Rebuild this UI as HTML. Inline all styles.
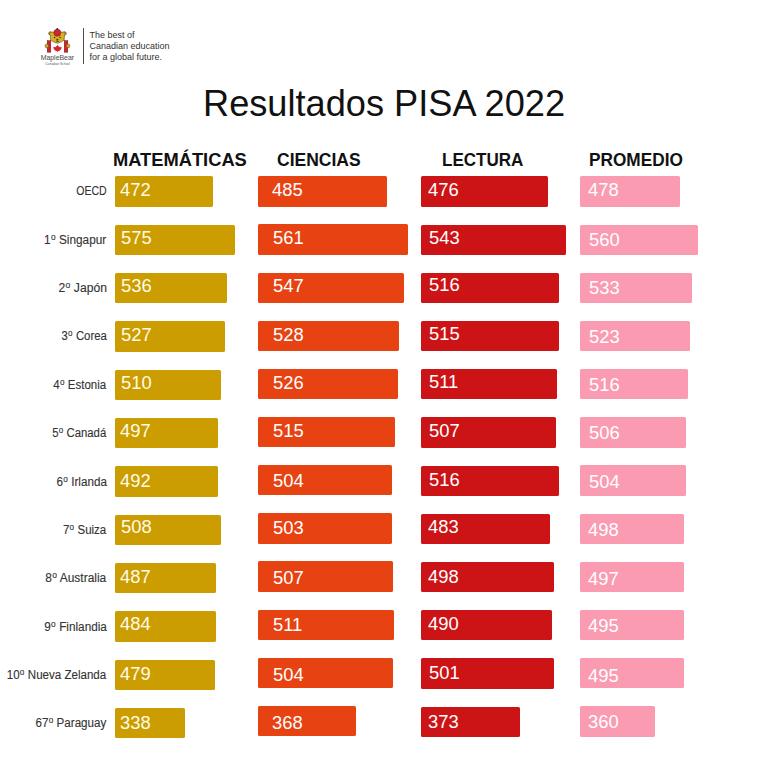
<!DOCTYPE html>
<html><head><meta charset="utf-8">
<style>
*{margin:0;padding:0;box-sizing:border-box}
html,body{width:768px;height:768px;overflow:hidden;background:#fff}
body{position:relative;font-family:"Liberation Sans",sans-serif}
.t{position:absolute;white-space:nowrap}
.bar{position:absolute;border-radius:1.6px}
.o{font-size:0.71em;position:relative;top:-0.47em;margin-left:0.03em;margin-right:0.02em}
.vline{position:absolute;left:83px;top:28.3px;width:1.2px;height:35.4px;background:#505050}
</style></head><body>
<svg style="position:absolute;left:0;top:0" width="80" height="70" viewBox="0 0 80 70">
<rect x="50.6" y="40.6" width="13.6" height="11.7" fill="#fff"/>
<rect x="47.2" y="40.7" width="3.6" height="11.5" fill="#d22228" stroke="#5e1414" stroke-width="0.45"/>
<rect x="64.2" y="40.7" width="3.6" height="11.5" fill="#d22228" stroke="#5e1414" stroke-width="0.45"/>
<circle cx="46.9" cy="45.9" r="1.9" fill="#cfa72c" stroke="#4a3a10" stroke-width="0.45"/>
<circle cx="68.0" cy="45.9" r="1.9" fill="#cfa72c" stroke="#4a3a10" stroke-width="0.45"/>
<path d="M57.50 44.80 L58.25 46.20 L59.00 45.80 L58.85 47.60 L60.10 46.50 L60.20 47.30 L61.80 47.00 L61.20 48.50 L61.60 48.90 L59.40 50.50 L59.60 51.20 L57.85 50.90 L57.85 51.90 L57.15 51.90 L57.15 50.90 L55.40 51.20 L55.60 50.50 L53.40 48.90 L53.80 48.50 L53.20 47.00 L54.80 47.30 L54.90 46.50 L56.15 47.60 L56.00 45.80 L56.75 46.20 L57.50 44.80 Z" fill="#d8222a"/>
<circle cx="50.3" cy="33.4" r="1.7" fill="#d6ae2a" stroke="#3c2e08" stroke-width="0.5"/>
<circle cx="64.6" cy="33.4" r="1.7" fill="#d6ae2a" stroke="#3c2e08" stroke-width="0.5"/>
<path d="M49.7 33.3 Q49.9 31.7 51.6 32.1 L63.3 32.1 Q65 31.7 65.2 33.3 Q65.4 34.6 64.5 35.1 L64.1 40.1 Q61.8 42.2 57.35 43.3 Q52.9 42.2 50.7 40.1 L50.4 35.1 Q49.5 34.6 49.7 33.3 Z" fill="#d6ae2a" stroke="#3c2e08" stroke-width="0.5"/>
<circle cx="54.6" cy="37.5" r="0.65" fill="#2a2008"/>
<circle cx="60.1" cy="37.5" r="0.65" fill="#2a2008"/>
<path d="M56.5 39.2 L58.2 39.2 L57.35 40.3 Z M57.35 40.2 L57.35 41.2 M55.9 41.4 Q57.35 40.8 58.8 41.4" fill="#2a2008" stroke="#2a2008" stroke-width="0.45"/>
<circle cx="57.3" cy="32.7" r="3.5" fill="#cf262b" stroke="#5a1414" stroke-width="0.45"/>
<circle cx="57.3" cy="28.9" r="0.9" fill="#3a1a1a"/>
<text x="40.7" y="59.7" font-family="Liberation Sans" font-size="7.2" fill="#505050" stroke="#4a4a4a" stroke-width="0.05" textLength="33.4" lengthAdjust="spacingAndGlyphs">MapleBear</text>
<text x="45.3" y="64.9" font-family="Liberation Sans" font-size="3.4" fill="#5a5a5a" textLength="24.5" lengthAdjust="spacingAndGlyphs">Canadian School</text>
</svg>
<div class="vline"></div>
<div class="t" style="left:89.50px;top:31.18px;font-size:9.0px;line-height:9.0px;font-weight:normal;color:#333;transform:scaleX(1.0);transform-origin:left top;">The best of</div>
<div class="t" style="left:89.50px;top:42.03px;font-size:9.0px;line-height:9.0px;font-weight:normal;color:#333;transform:scaleX(1.0);transform-origin:left top;">Canadian education</div>
<div class="t" style="left:89.50px;top:52.88px;font-size:9.0px;line-height:9.0px;font-weight:normal;color:#333;transform:scaleX(1.0);transform-origin:left top;">for a global future.</div>
<div class="t" style="left:202.80px;top:84.76px;font-size:37.6px;line-height:37.6px;font-weight:normal;color:#111;transform:scaleX(0.963);transform-origin:left top;">Resultados PISA 2022</div>
<div class="t" style="left:112.50px;top:149.91px;font-size:19.0px;line-height:19.0px;font-weight:bold;color:#111;transform:scaleX(0.963);transform-origin:left top;">MATEMÁTICAS</div>
<div class="t" style="left:277.10px;top:149.91px;font-size:19.0px;line-height:19.0px;font-weight:bold;color:#111;transform:scaleX(0.921);transform-origin:left top;">CIENCIAS</div>
<div class="t" style="left:442.00px;top:149.91px;font-size:19.0px;line-height:19.0px;font-weight:bold;color:#111;transform:scaleX(0.896);transform-origin:left top;">LECTURA</div>
<div class="t" style="left:588.80px;top:149.91px;font-size:19.0px;line-height:19.0px;font-weight:bold;color:#111;transform:scaleX(0.907);transform-origin:left top;">PROMEDIO</div>
<div class="t" style="right:661.50px;top:185.34px;font-size:12.0px;line-height:12.0px;font-weight:normal;color:#333;transform:scaleX(0.8793);transform-origin:right top;-webkit-text-stroke:0.12px #333;">OECD</div>
<div class="bar" style="left:115.00px;top:176.35px;width:98.07px;height:30.3px;background:#cb9d00"></div>
<div class="t" style="left:119.68px;top:180.13px;font-size:19.25px;line-height:19.25px;font-weight:normal;color:#fffbe8;transform:scaleX(0.955);transform-origin:left top;">472</div>
<div class="bar" style="left:258.35px;top:176.35px;width:128.85px;height:30.3px;background:#e74312"></div>
<div class="t" style="left:271.58px;top:180.13px;font-size:19.25px;line-height:19.25px;font-weight:normal;color:#fff;transform:scaleX(0.955);transform-origin:left top;">485</div>
<div class="bar" style="left:420.90px;top:176.35px;width:127.40px;height:30.3px;background:#cc1416"></div>
<div class="t" style="left:428.18px;top:180.13px;font-size:19.25px;line-height:19.25px;font-weight:normal;color:#fff;transform:scaleX(0.955);transform-origin:left top;">476</div>
<div class="bar" style="left:580.10px;top:176.35px;width:100.00px;height:30.3px;background:#fa9bb2"></div>
<div class="t" style="left:587.58px;top:180.23px;font-size:19.25px;line-height:19.25px;font-weight:normal;color:#fff;transform:scaleX(0.955);transform-origin:left top;">478</div>
<div class="t" style="right:661.50px;top:233.70px;font-size:12.0px;line-height:12.0px;font-weight:normal;color:#333;transform:scaleX(0.9828);transform-origin:right top;-webkit-text-stroke:0.12px #333;">1<span class="o">o</span> Singapur</div>
<div class="bar" style="left:115.00px;top:224.67px;width:119.70px;height:30.3px;background:#cb9d00"></div>
<div class="t" style="left:120.96px;top:228.23px;font-size:19.25px;line-height:19.25px;font-weight:normal;color:#fffbe8;transform:scaleX(0.955);transform-origin:left top;">575</div>
<div class="bar" style="left:258.35px;top:224.48px;width:149.20px;height:30.3px;background:#e74312"></div>
<div class="t" style="left:272.96px;top:228.23px;font-size:19.25px;line-height:19.25px;font-weight:normal;color:#fff;transform:scaleX(0.955);transform-origin:left top;">561</div>
<div class="bar" style="left:420.90px;top:224.55px;width:145.10px;height:30.3px;background:#cc1416"></div>
<div class="t" style="left:428.86px;top:227.73px;font-size:19.25px;line-height:19.25px;font-weight:normal;color:#fff;transform:scaleX(0.955);transform-origin:left top;">543</div>
<div class="bar" style="left:580.10px;top:224.53px;width:117.45px;height:30.3px;background:#fa9bb2"></div>
<div class="t" style="left:588.66px;top:230.23px;font-size:19.25px;line-height:19.25px;font-weight:normal;color:#fff;transform:scaleX(0.955);transform-origin:left top;">560</div>
<div class="t" style="right:661.50px;top:282.06px;font-size:12.0px;line-height:12.0px;font-weight:normal;color:#333;transform:scaleX(1.0095);transform-origin:right top;-webkit-text-stroke:0.12px #333;">2<span class="o">o</span> Japón</div>
<div class="bar" style="left:115.00px;top:272.99px;width:111.60px;height:30.3px;background:#cb9d00"></div>
<div class="t" style="left:120.96px;top:275.93px;font-size:19.25px;line-height:19.25px;font-weight:normal;color:#fffbe8;transform:scaleX(0.955);transform-origin:left top;">536</div>
<div class="bar" style="left:258.35px;top:272.61px;width:145.55px;height:30.3px;background:#e74312"></div>
<div class="t" style="left:272.96px;top:275.93px;font-size:19.25px;line-height:19.25px;font-weight:normal;color:#fff;transform:scaleX(0.955);transform-origin:left top;">547</div>
<div class="bar" style="left:420.90px;top:272.75px;width:138.10px;height:30.3px;background:#cc1416"></div>
<div class="t" style="left:428.86px;top:275.43px;font-size:19.25px;line-height:19.25px;font-weight:normal;color:#fff;transform:scaleX(0.955);transform-origin:left top;">516</div>
<div class="bar" style="left:580.10px;top:272.71px;width:111.70px;height:30.3px;background:#fa9bb2"></div>
<div class="t" style="left:588.66px;top:277.83px;font-size:19.25px;line-height:19.25px;font-weight:normal;color:#fff;transform:scaleX(0.955);transform-origin:left top;">533</div>
<div class="t" style="right:661.50px;top:330.42px;font-size:12.0px;line-height:12.0px;font-weight:normal;color:#333;transform:scaleX(0.9467);transform-origin:right top;-webkit-text-stroke:0.12px #333;">3<span class="o">o</span> Corea</div>
<div class="bar" style="left:115.00px;top:321.31px;width:109.80px;height:30.3px;background:#cb9d00"></div>
<div class="t" style="left:120.96px;top:324.88px;font-size:19.25px;line-height:19.25px;font-weight:normal;color:#fffbe8;transform:scaleX(0.955);transform-origin:left top;">527</div>
<div class="bar" style="left:258.35px;top:320.74px;width:140.65px;height:30.3px;background:#e74312"></div>
<div class="t" style="left:272.96px;top:324.88px;font-size:19.25px;line-height:19.25px;font-weight:normal;color:#fff;transform:scaleX(0.955);transform-origin:left top;">528</div>
<div class="bar" style="left:420.90px;top:320.95px;width:137.80px;height:30.3px;background:#cc1416"></div>
<div class="t" style="left:428.86px;top:324.13px;font-size:19.25px;line-height:19.25px;font-weight:normal;color:#fff;transform:scaleX(0.955);transform-origin:left top;">515</div>
<div class="bar" style="left:580.10px;top:320.89px;width:109.60px;height:30.3px;background:#fa9bb2"></div>
<div class="t" style="left:588.66px;top:327.33px;font-size:19.25px;line-height:19.25px;font-weight:normal;color:#fff;transform:scaleX(0.955);transform-origin:left top;">523</div>
<div class="t" style="right:661.50px;top:378.78px;font-size:12.0px;line-height:12.0px;font-weight:normal;color:#333;transform:scaleX(0.9588);transform-origin:right top;-webkit-text-stroke:0.12px #333;">4<span class="o">o</span> Estonia</div>
<div class="bar" style="left:115.00px;top:369.63px;width:105.90px;height:30.3px;background:#cb9d00"></div>
<div class="t" style="left:120.96px;top:372.93px;font-size:19.25px;line-height:19.25px;font-weight:normal;color:#fffbe8;transform:scaleX(0.955);transform-origin:left top;">510</div>
<div class="bar" style="left:258.35px;top:368.87px;width:140.05px;height:30.3px;background:#e74312"></div>
<div class="t" style="left:272.96px;top:373.43px;font-size:19.25px;line-height:19.25px;font-weight:normal;color:#fff;transform:scaleX(0.955);transform-origin:left top;">526</div>
<div class="bar" style="left:420.90px;top:369.15px;width:136.50px;height:30.3px;background:#cc1416"></div>
<div class="t" style="left:428.86px;top:372.13px;font-size:19.25px;line-height:19.25px;font-weight:normal;color:#fff;transform:scaleX(0.955);transform-origin:left top;">511</div>
<div class="bar" style="left:580.10px;top:369.07px;width:108.10px;height:30.3px;background:#fa9bb2"></div>
<div class="t" style="left:588.66px;top:374.83px;font-size:19.25px;line-height:19.25px;font-weight:normal;color:#fff;transform:scaleX(0.955);transform-origin:left top;">516</div>
<div class="t" style="right:661.50px;top:427.14px;font-size:12.0px;line-height:12.0px;font-weight:normal;color:#333;transform:scaleX(0.9448);transform-origin:right top;-webkit-text-stroke:0.12px #333;">5<span class="o">o</span> Canadá</div>
<div class="bar" style="left:115.00px;top:417.95px;width:103.30px;height:30.3px;background:#cb9d00"></div>
<div class="t" style="left:119.68px;top:420.83px;font-size:19.25px;line-height:19.25px;font-weight:normal;color:#fffbe8;transform:scaleX(0.955);transform-origin:left top;">497</div>
<div class="bar" style="left:258.35px;top:417.00px;width:136.95px;height:30.3px;background:#e74312"></div>
<div class="t" style="left:272.96px;top:421.13px;font-size:19.25px;line-height:19.25px;font-weight:normal;color:#fff;transform:scaleX(0.955);transform-origin:left top;">515</div>
<div class="bar" style="left:420.90px;top:417.35px;width:135.45px;height:30.3px;background:#cc1416"></div>
<div class="t" style="left:428.86px;top:420.83px;font-size:19.25px;line-height:19.25px;font-weight:normal;color:#fff;transform:scaleX(0.955);transform-origin:left top;">507</div>
<div class="bar" style="left:580.10px;top:417.25px;width:106.00px;height:30.3px;background:#fa9bb2"></div>
<div class="t" style="left:588.66px;top:423.03px;font-size:19.25px;line-height:19.25px;font-weight:normal;color:#fff;transform:scaleX(0.955);transform-origin:left top;">506</div>
<div class="t" style="right:661.50px;top:475.50px;font-size:12.0px;line-height:12.0px;font-weight:normal;color:#333;transform:scaleX(0.972);transform-origin:right top;-webkit-text-stroke:0.12px #333;">6<span class="o">o</span> Irlanda</div>
<div class="bar" style="left:115.00px;top:466.27px;width:102.50px;height:30.3px;background:#cb9d00"></div>
<div class="t" style="left:119.68px;top:470.63px;font-size:19.25px;line-height:19.25px;font-weight:normal;color:#fffbe8;transform:scaleX(0.955);transform-origin:left top;">492</div>
<div class="bar" style="left:258.35px;top:465.13px;width:134.05px;height:30.3px;background:#e74312"></div>
<div class="t" style="left:272.96px;top:471.33px;font-size:19.25px;line-height:19.25px;font-weight:normal;color:#fff;transform:scaleX(0.955);transform-origin:left top;">504</div>
<div class="bar" style="left:420.90px;top:465.55px;width:138.10px;height:30.3px;background:#cc1416"></div>
<div class="t" style="left:428.86px;top:469.83px;font-size:19.25px;line-height:19.25px;font-weight:normal;color:#fff;transform:scaleX(0.955);transform-origin:left top;">516</div>
<div class="bar" style="left:580.10px;top:465.43px;width:105.50px;height:30.3px;background:#fa9bb2"></div>
<div class="t" style="left:588.66px;top:472.23px;font-size:19.25px;line-height:19.25px;font-weight:normal;color:#fff;transform:scaleX(0.955);transform-origin:left top;">504</div>
<div class="t" style="right:661.50px;top:523.86px;font-size:12.0px;line-height:12.0px;font-weight:normal;color:#333;transform:scaleX(0.9569);transform-origin:right top;-webkit-text-stroke:0.12px #333;">7<span class="o">o</span> Suiza</div>
<div class="bar" style="left:115.00px;top:514.59px;width:105.90px;height:30.3px;background:#cb9d00"></div>
<div class="t" style="left:120.96px;top:517.23px;font-size:19.25px;line-height:19.25px;font-weight:normal;color:#fffbe8;transform:scaleX(0.955);transform-origin:left top;">508</div>
<div class="bar" style="left:258.35px;top:513.26px;width:134.05px;height:30.3px;background:#e74312"></div>
<div class="t" style="left:272.96px;top:518.03px;font-size:19.25px;line-height:19.25px;font-weight:normal;color:#fff;transform:scaleX(0.955);transform-origin:left top;">503</div>
<div class="bar" style="left:420.90px;top:513.75px;width:128.90px;height:30.3px;background:#cc1416"></div>
<div class="t" style="left:428.18px;top:517.23px;font-size:19.25px;line-height:19.25px;font-weight:normal;color:#fff;transform:scaleX(0.955);transform-origin:left top;">483</div>
<div class="bar" style="left:580.10px;top:513.61px;width:104.20px;height:30.3px;background:#fa9bb2"></div>
<div class="t" style="left:587.58px;top:519.93px;font-size:19.25px;line-height:19.25px;font-weight:normal;color:#fff;transform:scaleX(0.955);transform-origin:left top;">498</div>
<div class="t" style="right:661.50px;top:572.22px;font-size:12.0px;line-height:12.0px;font-weight:normal;color:#333;transform:scaleX(0.9944);transform-origin:right top;-webkit-text-stroke:0.12px #333;">8<span class="o">o</span> Australia</div>
<div class="bar" style="left:115.00px;top:562.91px;width:101.25px;height:30.3px;background:#cb9d00"></div>
<div class="t" style="left:119.68px;top:566.83px;font-size:19.25px;line-height:19.25px;font-weight:normal;color:#fffbe8;transform:scaleX(0.955);transform-origin:left top;">487</div>
<div class="bar" style="left:258.35px;top:561.39px;width:135.05px;height:30.3px;background:#e74312"></div>
<div class="t" style="left:272.96px;top:567.93px;font-size:19.25px;line-height:19.25px;font-weight:normal;color:#fff;transform:scaleX(0.955);transform-origin:left top;">507</div>
<div class="bar" style="left:420.90px;top:561.95px;width:133.00px;height:30.3px;background:#cc1416"></div>
<div class="t" style="left:428.18px;top:566.83px;font-size:19.25px;line-height:19.25px;font-weight:normal;color:#fff;transform:scaleX(0.955);transform-origin:left top;">498</div>
<div class="bar" style="left:580.10px;top:561.79px;width:103.80px;height:30.3px;background:#fa9bb2"></div>
<div class="t" style="left:587.58px;top:569.33px;font-size:19.25px;line-height:19.25px;font-weight:normal;color:#fff;transform:scaleX(0.955);transform-origin:left top;">497</div>
<div class="t" style="right:661.50px;top:620.58px;font-size:12.0px;line-height:12.0px;font-weight:normal;color:#333;transform:scaleX(0.9792);transform-origin:right top;-webkit-text-stroke:0.12px #333;">9<span class="o">o</span> Finlandia</div>
<div class="bar" style="left:115.00px;top:611.23px;width:100.70px;height:30.3px;background:#cb9d00"></div>
<div class="t" style="left:119.68px;top:614.23px;font-size:19.25px;line-height:19.25px;font-weight:normal;color:#fffbe8;transform:scaleX(0.955);transform-origin:left top;">484</div>
<div class="bar" style="left:258.35px;top:609.52px;width:136.05px;height:30.3px;background:#e74312"></div>
<div class="t" style="left:272.96px;top:615.03px;font-size:19.25px;line-height:19.25px;font-weight:normal;color:#fff;transform:scaleX(0.955);transform-origin:left top;">511</div>
<div class="bar" style="left:420.90px;top:610.15px;width:130.90px;height:30.3px;background:#cc1416"></div>
<div class="t" style="left:428.18px;top:614.23px;font-size:19.25px;line-height:19.25px;font-weight:normal;color:#fff;transform:scaleX(0.955);transform-origin:left top;">490</div>
<div class="bar" style="left:580.10px;top:609.97px;width:103.50px;height:30.3px;background:#fa9bb2"></div>
<div class="t" style="left:587.58px;top:616.13px;font-size:19.25px;line-height:19.25px;font-weight:normal;color:#fff;transform:scaleX(0.955);transform-origin:left top;">495</div>
<div class="t" style="right:661.50px;top:668.94px;font-size:12.0px;line-height:12.0px;font-weight:normal;color:#333;transform:scaleX(0.9638);transform-origin:right top;-webkit-text-stroke:0.12px #333;">10<span class="o">o</span> Nueva Zelanda</div>
<div class="bar" style="left:115.00px;top:659.55px;width:99.70px;height:30.3px;background:#cb9d00"></div>
<div class="t" style="left:119.68px;top:663.73px;font-size:19.25px;line-height:19.25px;font-weight:normal;color:#fffbe8;transform:scaleX(0.955);transform-origin:left top;">479</div>
<div class="bar" style="left:258.35px;top:657.65px;width:134.25px;height:30.3px;background:#e74312"></div>
<div class="t" style="left:272.96px;top:664.53px;font-size:19.25px;line-height:19.25px;font-weight:normal;color:#fff;transform:scaleX(0.955);transform-origin:left top;">504</div>
<div class="bar" style="left:420.90px;top:658.35px;width:133.50px;height:30.3px;background:#cc1416"></div>
<div class="t" style="left:428.86px;top:663.23px;font-size:19.25px;line-height:19.25px;font-weight:normal;color:#fff;transform:scaleX(0.955);transform-origin:left top;">501</div>
<div class="bar" style="left:580.10px;top:658.15px;width:103.50px;height:30.3px;background:#fa9bb2"></div>
<div class="t" style="left:587.58px;top:665.63px;font-size:19.25px;line-height:19.25px;font-weight:normal;color:#fff;transform:scaleX(0.955);transform-origin:left top;">495</div>
<div class="t" style="right:661.50px;top:717.30px;font-size:12.0px;line-height:12.0px;font-weight:normal;color:#333;transform:scaleX(0.9659);transform-origin:right top;-webkit-text-stroke:0.12px #333;">67<span class="o">o</span> Paraguay</div>
<div class="bar" style="left:115.00px;top:707.87px;width:70.00px;height:30.3px;background:#cb9d00"></div>
<div class="t" style="left:119.70px;top:713.13px;font-size:19.25px;line-height:19.25px;font-weight:normal;color:#fffbe8;transform:scaleX(0.955);transform-origin:left top;">338</div>
<div class="bar" style="left:258.35px;top:705.78px;width:97.75px;height:30.3px;background:#e74312"></div>
<div class="t" style="left:272.20px;top:712.73px;font-size:19.25px;line-height:19.25px;font-weight:normal;color:#fff;transform:scaleX(0.955);transform-origin:left top;">368</div>
<div class="bar" style="left:420.90px;top:706.55px;width:99.40px;height:30.3px;background:#cc1416"></div>
<div class="t" style="left:428.40px;top:711.83px;font-size:19.25px;line-height:19.25px;font-weight:normal;color:#fff;transform:scaleX(0.955);transform-origin:left top;">373</div>
<div class="bar" style="left:580.10px;top:706.33px;width:75.20px;height:30.3px;background:#fa9bb2"></div>
<div class="t" style="left:588.00px;top:712.03px;font-size:19.25px;line-height:19.25px;font-weight:normal;color:#fff;transform:scaleX(0.955);transform-origin:left top;">360</div>
</body></html>
